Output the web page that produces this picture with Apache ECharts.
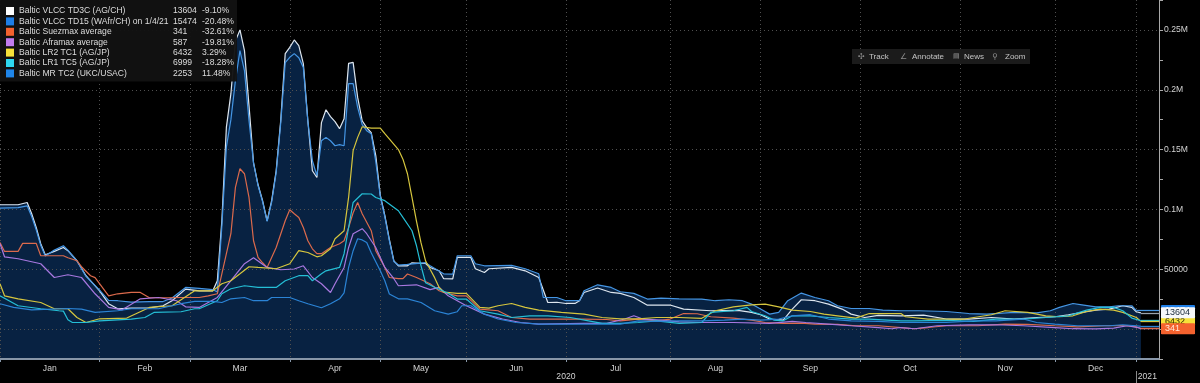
<!DOCTYPE html>
<html><head><meta charset="utf-8">
<script src="https://cdn.jsdelivr.net/npm/echarts@6.0.0/dist/echarts.min.js"></script>
<style>html,body{margin:0;padding:0;background:#000;}#c{width:1200px;height:383px;}</style>
</head><body><div id="c"></div>
<script>
const FONT = "'Liberation Sans', Arial, sans-serif";
const FS = 8.6;

// ---- categories: trading days (Baltic Exchange publication days) ----
const HOLIDAYS = ['2020-01-01','2020-04-10','2020-04-13','2020-05-08','2020-05-25','2020-08-31',
  '2020-12-24','2020-12-25','2020-12-28','2020-12-29','2020-12-31','2021-01-01'];
function businessDays(from, to, holidays) {
  const out = [];
  const d = new Date(from + 'T00:00:00Z');
  const end = new Date(to + 'T00:00:00Z');
  while (d <= end) {
    const wd = d.getUTCDay();
    const s = d.toISOString().slice(0, 10);
    if (wd !== 0 && wd !== 6 && holidays.indexOf(s) < 0) out.push(s);
    d.setUTCDate(d.getUTCDate() + 1);
  }
  return out;
}
const categories = businessDays('2020-01-02', '2021-01-11', HOLIDAYS);
const MONTHS = ['Jan','Feb','Mar','Apr','May','Jun','Jul','Aug','Sep','Oct','Nov','Dec'];

// ---- legend texts ----
const seriesNames = ['Baltic VLCC TD3C (AG/CH)', 'Baltic VLCC TD15 (WAfr/CH) on 1/4/21', 'Baltic Suezmax average',
  'Baltic Aframax average', 'Baltic LR2 TC1 (AG/JP)', 'Baltic LR1 TC5 (AG/JP)', 'Baltic MR TC2 (UKC/USAC)'];
const lastValues = [13604, 15474, 341, 587, 6432, 6999, 2253];
const changes = ['-9.10%', '-20.48%', '-32.61%', '-19.81%', '3.29%', '-18.28%', '11.48%'];

// ---- series data: [trading-day index, USD/day] ----
const td3c = [[0,103900],[4,103900],[6,105800],[7,96400],[8,84900],[9,71300],[10,62100],[12,64900],[14,68200],[15,65500],[17,57100],[19,44600],[22,32000],[24,21200],[26,17000],[29,17500],[33,17800],[36,19500],[38,23700],[41,33400],[44,32000],[47,32000],[48,40400],[49,90500],[50,168500],[51,196700],[52,241000],[53,250000],[54,232700],[55,186700],[56,139000],[57,120600],[58,107300],[59,90500],[60,107300],[61,132300],[62,174100],[63,230200],[64,235400],[65,241600],[66,236800],[67,221800],[68,174100],[69,132300],[70,126700],[71,172500],[72,183300],[73,177500],[74,173300],[75,167500],[76,175800],[77,222000],[78,222900],[79,193600],[80,174100],[81,168300],[82,164100],[83,145000],[84,112000],[85,95000],[86,75000],[87,57000],[88,52900],[90,52900],[91,55400],[94,54800],[95,51500],[97,48700],[98,42100],[100,42000],[101,59900],[104,59900],[105,50400],[107,47300],[108,50400],[113,51500],[116,48700],[119,43100],[121,22200],[123,22400],[125,21400],[127,21400],[128,23700],[129,30600],[132,34300],[135,30600],[137,29800],[140,26400],[143,20000],[148,20100],[151,16700],[157,15300],[163,15700],[166,13900],[168,12000],[170,8400],[173,7500],[175,16700],[177,24500],[180,23700],[183,20900],[186,16700],[188,12500],[191,9700],[194,11500],[199,11000],[204,11700],[209,8400],[214,8400],[219,9700],[224,8400],[229,9700],[233,10300],[236,12000],[239,13900],[242,15900],[245,16700],[248,19500],[250,18100],[251,14500],[252,13604]];
const td15 = [[0,101000],[4,101500],[6,103000],[7,94000],[8,83000],[9,70000],[10,61000],[12,66000],[14,69600],[15,66000],[17,57000],[19,44000],[22,32500],[24,24000],[26,23700],[29,22500],[33,23000],[36,23000],[38,26000],[41,34800],[44,34000],[47,33000],[48,31000],[49,86000],[50,152000],[51,175000],[52,207600],[53,232700],[54,216000],[55,174100],[56,139000],[57,120000],[58,106500],[59,90000],[60,106000],[61,131000],[62,172000],[63,222600],[64,227100],[65,230200],[66,226800],[67,218700],[68,174100],[69,140700],[70,128200],[71,157400],[72,160200],[73,157400],[74,153200],[75,154100],[76,153200],[77,205100],[78,205100],[79,185300],[80,170800],[81,165800],[82,163300],[83,140000],[84,111000],[85,94000],[86,74000],[87,56500],[88,53500],[90,54000],[94,55500],[95,52900],[98,46200],[100,46000],[101,61300],[104,61300],[105,54600],[107,52900],[113,53200],[116,50400],[119,46200],[120,26400],[123,26400],[125,23700],[128,23700],[129,32000],[132,37000],[135,34800],[137,31200],[140,29800],[143,25100],[146,25800],[150,25300],[155,25100],[158,23700],[161,24500],[164,23700],[166,20900],[168,16700],[170,12500],[172,13900],[174,23700],[177,30100],[180,26400],[183,23700],[185,19500],[188,17200],[192,17200],[195,15900],[199,15300],[203,15300],[209,14700],[214,13000],[218,12500],[224,13900],[229,13500],[232,15300],[234,18100],[237,21400],[239,20300],[242,18600],[245,18600],[247,19500],[250,19500],[251,15474]];
const suezmax = [[0,72400],[1,64900],[4,64900],[5,71600],[8,71600],[9,61300],[14,61300],[15,59600],[17,57100],[18,52100],[20,44600],[21,43000],[24,27800],[26,29500],[29,30600],[31,30600],[33,26200],[37,26200],[40,26400],[44,26400],[46,27800],[48,29500],[49,46200],[51,79700],[52,118400],[53,134000],[54,129800],[55,110000],[56,73800],[57,59900],[58,55400],[59,51500],[61,68200],[63,90500],[64,99700],[65,96400],[66,93300],[67,84900],[68,73800],[69,67100],[70,63000],[71,63000],[73,68200],[75,71300],[76,73800],[77,84900],[78,97200],[79,105800],[80,96400],[82,82200],[83,65500],[85,51500],[86,43100],[88,42100],[89,42100],[90,46000],[92,43100],[95,37900],[97,32000],[98,30600],[101,27800],[103,27800],[106,16700],[110,15300],[113,9700],[117,8400],[124,8400],[129,8400],[134,8000],[137,6900],[141,8400],[145,6900],[148,8400],[151,13000],[154,12800],[157,10300],[162,9200],[166,7500],[169,5500],[173,4700],[177,5000],[180,4200],[185,4000],[189,2800],[194,2800],[199,1300],[202,300],[205,1300],[209,2800],[216,2800],[222,4200],[227,4000],[233,2800],[238,1900],[244,2800],[248,3000],[251,2000],[252,341]];
const aframax = [[0,71300],[1,60400],[4,58800],[9,54600],[12,43100],[15,45400],[18,43100],[21,29500],[24,18100],[27,16100],[31,25300],[35,26400],[39,23700],[41,18600],[44,18100],[48,26400],[51,40400],[54,54600],[56,59600],[59,51500],[62,49600],[65,50200],[67,52900],[69,43100],[71,37900],[73,30600],[74,37900],[76,51500],[77,68200],[78,79700],[80,83900],[81,79700],[83,68200],[85,51500],[87,42100],[88,36200],[92,37000],[95,33000],[97,34800],[99,27800],[103,19500],[107,12500],[111,8400],[115,5500],[119,4200],[129,4800],[134,4800],[138,8400],[140,11100],[142,8400],[146,7500],[150,6000],[155,5500],[162,5500],[170,4700],[175,6400],[178,5500],[183,4200],[188,2800],[194,1300],[197,300],[199,1300],[202,300],[207,2800],[214,3600],[220,3600],[226,2800],[233,1300],[237,300],[242,200],[246,800],[249,2800],[251,1500],[252,587]];
const lr2tc1 = [[0,37900],[1,27800],[4,25300],[9,22200],[12,17000],[15,17000],[17,9700],[19,5500],[22,8600],[28,9200],[33,18100],[38,19500],[43,32000],[47,32000],[49,37900],[51,40400],[53,46200],[55,52100],[57,51500],[61,50400],[64,54600],[66,65500],[68,64000],[70,60400],[71,61300],[73,67100],[74,75500],[76,82200],[77,110000],[78,149100],[79,160200],[80,169100],[82,168000],[84,168000],[85,163300],[88,150000],[89,142000],[90,129800],[91,110000],[92,90000],[93,72000],[94,57000],[95,50000],[96,43000],[97,34800],[98,31000],[101,29800],[103,29800],[106,18100],[108,17500],[110,19500],[113,21400],[116,18100],[119,15900],[124,13900],[129,12500],[133,9700],[137,8600],[141,8600],[145,9700],[150,9700],[155,9000],[158,15300],[162,18600],[166,20300],[169,20900],[172,18600],[175,15900],[179,14700],[182,12500],[185,11100],[189,9200],[192,13000],[199,13000],[200,10300],[205,8400],[213,8400],[219,12000],[222,15300],[227,13900],[231,11100],[234,10300],[237,11100],[240,14700],[243,16700],[246,15900],[248,14000],[251,9700],[252,6432]];
const lr1tc5 = [[0,27800],[4,19500],[9,17000],[13,15300],[14,15000],[15,7800],[16,5500],[19,5500],[22,6900],[29,8400],[32,9700],[34,13900],[40,14500],[43,17000],[44,17000],[48,23700],[49,29500],[51,33700],[54,36200],[57,34800],[61,34800],[63,40400],[66,44600],[68,44600],[69,40400],[71,46200],[72,48700],[75,51500],[76,63000],[77,84900],[78,105800],[80,113100],[82,112900],[83,110000],[85,107300],[88,98900],[89,93300],[91,82200],[92,69600],[93,52900],[94,38700],[96,35000],[99,30000],[101,25100],[103,25100],[106,15300],[110,12500],[113,9700],[117,11100],[121,11100],[126,9700],[130,6900],[133,4700],[137,4700],[141,5500],[145,6900],[150,4800],[155,5500],[157,13900],[162,15300],[165,18100],[166,14700],[169,11100],[171,7500],[173,6900],[175,11100],[179,11100],[183,9700],[188,8400],[192,8400],[199,6900],[202,6900],[209,7200],[215,6400],[220,8400],[226,8400],[231,9700],[236,11100],[240,15900],[243,18100],[246,18100],[248,15300],[250,9200],[252,6999]];
const mrtc2 = [[0,21200],[3,18100],[7,16100],[15,17200],[18,16700],[21,13900],[26,15300],[29,17000],[35,17000],[40,21200],[43,23100],[47,23100],[49,22200],[51,25300],[54,26400],[56,23700],[59,23700],[60,26400],[64,26400],[66,23700],[68,21200],[71,17800],[73,21200],[75,25300],[76,30300],[77,51500],[78,65500],[79,75500],[80,74500],[81,72400],[82,63800],[84,48700],[85,40400],[86,29300],[88,25300],[90,25300],[93,22200],[96,15300],[99,12500],[101,14500],[102,19500],[104,19500],[107,12500],[110,8400],[114,5500],[119,4200],[129,4200],[137,4200],[141,6900],[145,6500],[150,6900],[155,6900],[160,7500],[164,8400],[168,7500],[172,8400],[175,11100],[179,12000],[183,8400],[188,6900],[194,6400],[199,5500],[209,5500],[215,6900],[220,6900],[226,8400],[229,5500],[233,4200],[238,2800],[245,2800],[248,3600],[251,2800],[252,2253]];

const seriesData = [td3c, td15, suezmax, aframax, lr2tc1, lr1tc5, mrtc2];

// ---- styles ----
const lineColors = ['#dde6ef', '#4596e4', '#dc6a4c', '#a878e0', '#d6c63e', '#25bfd6', '#2b84d6'];
const legendColors = ['#ffffff', '#1e7ee6', '#f4622e', '#c27cf0', '#f6e23a', '#2ed8f0', '#1f86ea'];
const tagBg = ['#f6f8fa', '#1e7ee6', '#f4622e', '#c27cf0', '#f6e23a', '#2ed8f0', '#1f86ea'];
const tagFg = ['#1a2a3a', '#ffffff', '#ffe8dc', '#ffffff', '#2a2a00', '#002a30', '#ffffff'];
const tagLine = ['#9aa3ad', '#4596e4', '#dc6a4c', '#a878e0', '#d6c63e', '#25bfd6', '#2b84d6'];
const tagZ = [10, 5, 11, 8, 9, 6, 7];
const FILL = '#082242';

// month boundaries and label positions
const monthStarts = [];
let prevMonth = null;
categories.forEach((c, i) => { const m = c.slice(0, 7); if (m !== prevMonth) { monthStarts.push(i); prevMonth = m; } });
const startSet = new Set(monthStarts);
const monthLabelAt = {};
for (let k = 0; k < 12; k++) monthLabelAt[Math.floor((monthStarts[k] + monthStarts[k + 1]) / 2)] = MONTHS[k];
const yearLabelAt = {};
yearLabelAt[monthStarts[6]] = '2020';
yearLabelAt[monthStarts[12]] = '2021';
const lastIndex = categories.length - 1;

const series = [];
[0, 1].forEach(i => {
  series.push({
    type: 'line', name: 'area' + i, data: seriesData[i], symbol: 'none', silent: true, z: 1,
    lineStyle: { width: 0, opacity: 0 },
    areaStyle: { color: FILL, opacity: 1, origin: 'start' }
  });
});
seriesNames.forEach((name, i) => {
  const d = seriesData[i];
  const last = d[d.length - 1];
  series.push({
    type: 'line', name: name, data: d, symbol: 'none', z: 3, clip: false,
    itemStyle: { color: legendColors[i] },
    lineStyle: { color: lineColors[i], width: 1.2 },
    markLine: {
      silent: true, symbol: 'none', animation: false, z: tagZ[i],
      lineStyle: { color: tagLine[i], width: 1.3, type: 'solid' },
      label: {
        show: true, position: 'end', distance: 2,
        formatter: () => String(lastValues[i]),
        backgroundColor: tagBg[i], color: tagFg[i], fontFamily: FONT, fontSize: 9,
        padding: [1, 3, 0, 4], width: 27, lineHeight: 10, borderRadius: 1
      },
      data: [[{ coord: [last[0], last[1]] }, { coord: [lastIndex, last[1]] }]]
    }
  });
});

const chart = echarts.init(document.getElementById('c'), null, { renderer: 'canvas' });
chart.setOption({
  backgroundColor: '#000000',
  animation: false,
  textStyle: { fontFamily: FONT },
  grid: { left: 0, right: 41, top: 0, bottom: 24, containLabel: false },
  xAxis: [{
    type: 'category', data: categories, boundaryGap: false, z: 2,
    axisLine: { onZero: false, lineStyle: { color: '#8796a8', width: 2 } },
    axisTick: { show: true, length: 3, interval: (idx) => startSet.has(idx), lineStyle: { color: '#8796a8' } },
    axisLabel: { interval: (idx) => monthLabelAt[idx] !== undefined, formatter: (v, idx) => monthLabelAt[idx] || '',
      color: '#d2d2d2', fontFamily: FONT, fontSize: FS, margin: 5 },
    splitLine: { show: true, interval: (idx) => startSet.has(idx), lineStyle: { color: '#505050', type: [1, 3], width: 1 } }
  }, {
    type: 'category', data: categories, boundaryGap: false, position: 'bottom', offset: 12, z: 2,
    axisLine: { show: false, onZero: false },
    axisTick: { show: true, length: 13, interval: (idx) => idx === monthStarts[12], lineStyle: { color: '#8a8a8a' } },
    axisLabel: { interval: (idx) => yearLabelAt[idx] !== undefined,
      formatter: (v, idx) => idx === monthStarts[12] ? '{r|' + yearLabelAt[idx] + '}' : (yearLabelAt[idx] || ''),
      color: '#d2d2d2', fontFamily: FONT, fontSize: FS, margin: 1,
      rich: { r: { padding: [0, 0, 0, 22], color: '#d2d2d2', fontFamily: FONT, fontSize: FS } } },
    splitLine: { show: false }
  }],
  yAxis: {
    type: 'value', position: 'right', min: -25000, max: 275000, interval: 25000, z: 2,
    axisLine: { show: true, lineStyle: { color: '#a8a8a8', width: 1 } },
    axisTick: { show: true, length: 4, lineStyle: { color: '#a8a8a8' } },
    axisLabel: { color: '#d2d2d2', fontFamily: FONT, fontSize: FS, margin: 5,
      formatter: (v) => (v <= 0 || v % 50000 !== 0) ? '' : (v >= 100000 ? (v / 1e6) + 'M' : String(v)) },
    splitLine: { show: true, lineStyle: { color: ['rgba(0,0,0,0)', '#505050'], type: [1, 3], width: 1 } }
  },
  legend: {
    data: seriesNames.map((n, i) => ({ name: n, itemStyle: { color: legendColors[i] } })),
    left: 0, top: 0, orient: 'vertical', icon: 'rect', itemWidth: 8, itemHeight: 8, itemGap: 0.4,
    padding: [6, 3, 3, 6], backgroundColor: 'rgba(18,18,18,0.96)', selectedMode: false, z: 20,
    textStyle: { color: '#dcdcdc', fontFamily: FONT, fontSize: FS, lineHeight: 10,
      rich: {
        n: { width: 154, color: '#dcdcdc', fontFamily: FONT, fontSize: FS, lineHeight: 10 },
        v: { width: 29, color: '#dcdcdc', fontFamily: FONT, fontSize: FS, lineHeight: 10 },
        p: { width: 31, color: '#dcdcdc', fontFamily: FONT, fontSize: FS, lineHeight: 10 }
      } },
    formatter: (name) => { const i = seriesNames.indexOf(name); return '{n|' + name + '}{v|' + lastValues[i] + '}{p|' + changes[i] + '}'; }
  },
  graphic: [
    { type: 'rect', z: 100, shape: { x: 852, y: 49, width: 178, height: 15 }, style: { fill: '#1b1b1b' } },
    { type: 'text', z: 101, x: 858, y: 56.5, style: { text: '\u2723', fill: '#8c8c8c', font: '8px DejaVu Sans', verticalAlign: 'middle' } },
    { type: 'text', z: 101, x: 869, y: 56.5, style: { text: 'Track', fill: '#c4c4c4', font: '8px ' + FONT, verticalAlign: 'middle' } },
    { type: 'text', z: 101, x: 900, y: 56.5, style: { text: '\u2220', fill: '#8c8c8c', font: '8px DejaVu Sans', verticalAlign: 'middle' } },
    { type: 'text', z: 101, x: 912, y: 56.5, style: { text: 'Annotate', fill: '#c4c4c4', font: '8px ' + FONT, verticalAlign: 'middle' } },
    { type: 'text', z: 101, x: 953, y: 56.5, style: { text: '\u25A4', fill: '#8c8c8c', font: '7px DejaVu Sans', verticalAlign: 'middle' } },
    { type: 'text', z: 101, x: 964, y: 56.5, style: { text: 'News', fill: '#c4c4c4', font: '8px ' + FONT, verticalAlign: 'middle' } },
    { type: 'text', z: 101, x: 992, y: 56.5, style: { text: '\u26B2', fill: '#8c8c8c', font: '8px DejaVu Sans', verticalAlign: 'middle' } },
    { type: 'text', z: 101, x: 1005, y: 56.5, style: { text: 'Zoom', fill: '#c4c4c4', font: '8px ' + FONT, verticalAlign: 'middle' } }
  ],
  series: series
});
</script></body></html>
